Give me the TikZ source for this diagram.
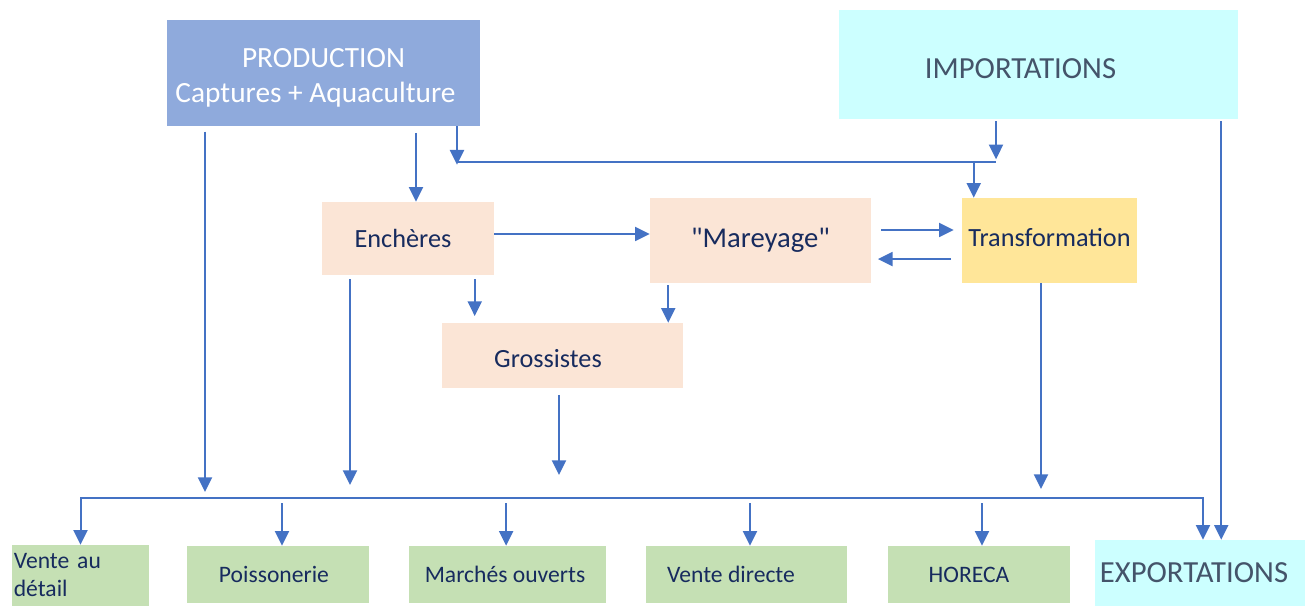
\documentclass[tikz,border=0pt]{standalone}
\usepackage{fontspec}
\setmainfont{Carlito}[Ligatures=TeXOff]
\usepackage[svgnames, dvipsnames]{xcolor}
\usetikzlibrary{calc, arrows.meta}
\definecolor{ProdBlue}{HTML}{8FAADC}
\definecolor{Cyan}{HTML}{CCFFFF}
\definecolor{Slate}{HTML}{44546A}
\definecolor{Peach}{HTML}{FBE5D6}
\definecolor{Butter}{HTML}{FFE699}
\definecolor{Sage}{HTML}{C5E0B4}
\definecolor{Flow}{HTML}{4472C4}
\definecolor{Ink}{HTML}{172B5E}
\tikzset{>={Triangle[width=10.5pt, length=11pt]}}
\tikzset{
  box/.style={rectangle, inner sep=0pt, text=Ink},
  outlet/.style={box, fill=Sage, minimum width=#1, minimum height=42.75pt, font=\fontsize{17.7}{21}\selectfont},
  flux/.style={->, draw=Flow, line width=1.5pt},
  link/.style={draw=Flow, line width=1.5pt}
}

\begin{document}
\begin{tikzpicture}[x=0.75pt, y=-0.75pt]
    \useasboundingbox (0,0) rectangle (1307,606);
    \node[box, fill=ProdBlue, text=white, minimum width=234.75pt, minimum height=79.5pt, align=center, font=\fontsize{22}{26.25}\selectfont]
    (prod) at (323.5,73) {\rule{0pt}{21pt}PRODUCTION\\Captures + Aquaculture\hspace*{12pt}};
    \node[box, fill=Cyan, text=Slate, minimum width=299.25pt, minimum height=81.75pt, text height=20.8pt, text depth=0pt, font=\fontsize{23}{27}\selectfont]
    (imp) at (1038.5,64.5) {IMPORTATIONS\hspace*{27pt}};
    \node[box, fill=Peach, minimum width=129pt, minimum height=54.75pt, font=\fontsize{19.7}{23}\selectfont]
    (ench) at (408,238.5) {Enchères\hspace*{7.5pt}};
    \node[box, fill=Peach, minimum width=165.75pt, minimum height=63.75pt, font=\fontsize{21.5}{25}\selectfont]
    (mar) at (760.5,240.5) {"Mareyage"};
    \node[box, fill=Butter, minimum width=131.25pt, minimum height=63.75pt, text height=9.5pt, text depth=0pt, font=\fontsize{19.7}{23}\selectfont]
    (trans) at (1049.5,240.5) {Transformation};
    \node[box, fill=Peach, minimum width=180.75pt, minimum height=48.75pt, text height=18.6pt, text depth=0pt, font=\fontsize{19.7}{23}\selectfont]
    (gros) at (562.5,355.5) {Grossistes\hspace*{21.75pt}};
    \node[outlet=102.75pt, minimum height=45.75pt, text width=100pt, align=left]
    (detail) at (80.5,575.5) {Vente au\\détail};
    \node[outlet=136.5pt] (poisson) at (278,574.5) {Poissonerie\hspace*{6pt}};
    \node[outlet=147.75pt] (marches) at (507.5,574.5) {Marchés ouverts\hspace*{3.75pt}};
    \node[outlet=150.75pt] (directe) at (746.5,574.5) {Vente directe\hspace*{23.25pt}};
    \node[outlet=136.5pt] (horeca) at (979,574.5) {HORECA\hspace*{15pt}};
    \node[box, fill=Cyan, text=Slate, minimum width=157.5pt, minimum height=49.5pt, font=\fontsize{23}{27}\selectfont]
    (exp) at (1200,573) {EXPORTATIONS\hspace*{9pt}};

    \coordinate (bus) at (0,498);
    \coordinate (be) at (1203,498);
    \coordinate (jp) at (457,162);
    \coordinate (ji) at (996,162);
    \coordinate (ti) at ([xshift=9pt]trans.north west);
    \coordinate (pl) at (205,492);
    \coordinate (pe) at ([xshift=6pt]ench.north);
    \coordinate (em) at ([yshift=3.4pt]ench.east);
    \coordinate (mt) at ([yshift=7.9pt]mar.east);
    \coordinate (tm) at ([yshift=-13.9pt]trans.west);
    \coordinate (eg) at ([xshift=24.75pt]gros.north west);
    \coordinate (mg) at ([xshift=-11.25pt]gros.north east);
    \coordinate (eb) at (350,485);
    \coordinate (gb) at (559,475);
    \coordinate (tb) at (1041,489);
    \coordinate (ie) at ([xshift=-12.75pt]imp.south east);

    \draw[flux, shorten <=4pt] (prod.south -| pl) -- (pl);
    \draw[flux, shorten <=5pt] (prod.south -| pe) -- (pe);
    \draw[flux] (prod.south -| jp) -- ([yshift=-2pt]jp);
    \draw[link] (jp) -- (ji);
    \draw[flux, shorten <=1.5pt] (imp.south -| ji) -- ([yshift=2pt]ji);
    \draw[flux] (ji -| ti) -- (ti);
    \draw[flux] (em) -- (em -| mar.west);
    \draw[flux, shorten <=7.5pt, shorten >=6pt] (mt) -- (mt -| trans.west);
    \draw[flux, shorten <=8pt, shorten >=5pt] (tm) -- (tm -| mar.east);
    \draw[flux, shorten <=3pt, shorten >=5pt] (ench.south -| eg) -- (eg);
    \draw[flux, shorten <=1.5pt] (mar.south -| mg) -- (mg);
    \draw[flux, shorten <=3pt] (ench.south -| eb) -- (eb);
    \draw[flux, shorten <=5pt] (gros.south -| gb) -- (gb);
    \draw[flux] (trans.south -| tb) -- (tb);
    \draw[flux, <->] (detail.north) |- (be) -- (be |- exp.north);
    \foreach \n/\dx in {poisson/3pt, marches/-1pt, directe/2.6pt, horeca/2.25pt}
      \draw[flux, shorten <=4pt] ([xshift=\dx]\n.north |- bus) -- ([xshift=\dx]\n.north);
    \draw[flux, shorten <=1.5pt] (ie) -- (ie |- exp.north);
\end{tikzpicture}
\end{document}
